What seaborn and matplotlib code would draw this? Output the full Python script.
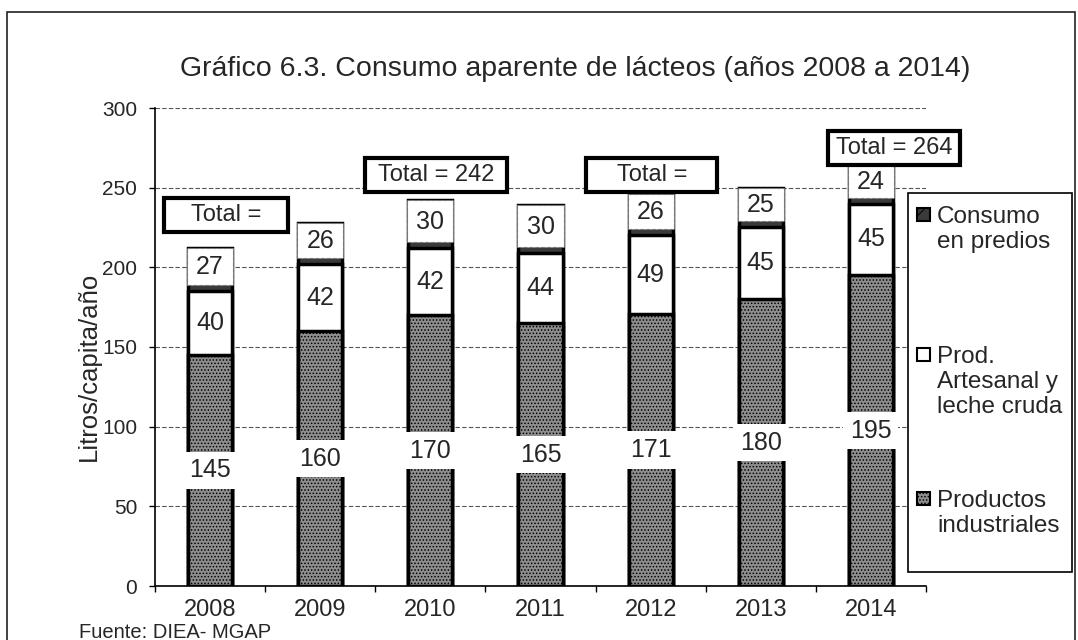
import numpy as np
import pandas as pd
import seaborn as sns
import matplotlib.pyplot as plt
from matplotlib.patches import Rectangle

years = ["2008", "2009", "2010", "2011", "2012", "2013", "2014"]
industriales = [145, 160, 170, 165, 171, 180, 195]
artesanal = [40, 42, 42, 44, 49, 45, 45]
predios = [27, 26, 30, 30, 26, 25, 24]

# the "Total" boxes as they appear in the source (two of them are cut off)
total_idx = [0, 2, 4, 6]
total_txt = ["Total =", "Total = 242", "Total =", "Total = 264"]
# box centre x offset, centre y, width (data units)
total_dx = [0.145, 0.05, 0.01, 0.21]
total_y = [233, 258, 258, 275]
total_w = [1.12, 1.29, 1.19, 1.2]

W, H = 1078, 640

def fx(x):
    return x / W

def fy(y):
    return 1 - y / H

sns.set_style("white")
plt.rcParams["font.family"] = ["Liberation Sans", "DejaVu Sans"]
plt.rcParams["hatch.linewidth"] = 0.7

df = pd.DataFrame({"year": years, "ind": industriales, "art": artesanal, "pre": predios})
df["top2"] = df["ind"] + df["art"]
df["top3"] = df["top2"] + df["pre"]

fig = plt.figure(figsize=(10.78, 6.4), dpi=100)
ax = fig.add_axes([fx(155), fy(586), fx(926) - fx(155), fy(108) - fy(586)])

c_pre = "#3a3a3a"
c_ind = "#8e8e8e"
bar_kw = dict(width=0.4, edgecolor="black", linewidth=2.5, saturation=1, ax=ax)
sns.barplot(data=df, x="year", y="top3", color=c_pre, **bar_kw)
sns.barplot(data=df, x="year", y="top2", color="white", **bar_kw)
sns.barplot(data=df, x="year", y="ind", color=c_ind, hatch=".....", **bar_kw)

ax.set_xlim(-0.5, 6.5)
ax.set_ylim(0, 300)
ax.set_yticks(np.arange(0, 301, 50))
ax.set_xlabel("")
ax.set_ylabel("")
ax.yaxis.grid(True, linestyle=(0, (4, 2)), color="#555555", linewidth=0.8)
ax.set_axisbelow(True)
for s in ["top", "right"]:
    ax.spines[s].set_visible(False)
ax.spines["left"].set_color("black")
ax.spines["bottom"].set_color("black")
ax.spines["left"].set_linewidth(1.2)
ax.spines["bottom"].set_linewidth(1.2)

ax.tick_params(axis="y", length=4.3, width=1, color="black", pad=8.6, labelsize=15, left=True)
ax.set_xticks(np.arange(-0.5, 7, 1), minor=True)
ax.tick_params(axis="x", which="major", length=0, pad=9.5, labelsize=17)
ax.tick_params(axis="x", which="minor", length=4.3, width=1, color="black", bottom=True)

for i in range(len(years)):
    ax.text(i, industriales[i] / 2, str(industriales[i]), ha="center", va="center",
            fontsize=18, zorder=6,
            bbox=dict(boxstyle="square,pad=0.27", fc="white", ec="none"))
    ax.text(i, industriales[i] + artesanal[i] / 2, str(artesanal[i]), ha="center",
            va="center", fontsize=18, zorder=6)
    base = industriales[i] + artesanal[i]
    ax.add_patch(Rectangle((i - 0.21, base + 3.8), 0.42, predios[i] - 3.8,
                           fc="white", ec="#777777", ls="--", lw=0.8, zorder=5))
    ax.text(i, base + predios[i] / 2 + 1.5, str(predios[i]), ha="center", va="center",
            fontsize=18, zorder=6)

for k, i in enumerate(total_idx):
    bx = i + total_dx[k]
    ax.add_patch(Rectangle((bx - total_w[k] / 2, total_y[k] - 10.7), total_w[k], 21.4,
                           fc="white", ec="black", lw=3, zorder=7, clip_on=False))
    ax.text(bx, total_y[k], total_txt[k], ha="center", va="center", fontsize=17, zorder=8)

fig.text(fx(575), fy(69), "Gráfico 6.3. Consumo aparente de lácteos (años 2008 a 2014)",
         ha="center", va="center", fontsize=20.5)
fig.text(fx(89), fy(366), "Litros/capita/año", rotation=90, ha="center", va="center",
         fontsize=18.5)
fig.text(fx(79), fy(638), "Fuente: DIEA- MGAP", ha="left", va="baseline", fontsize=14.5)

# outer frame
fig.add_artist(Rectangle((fx(7), -0.05), fx(1075) - fx(7), fy(12) + 0.05,
                         transform=fig.transFigure, fill=False, ec="#222222", lw=1.2))

# legend box
fig.add_artist(Rectangle((fx(908), fy(572)), fx(1072) - fx(908), fy(193) - fy(572),
                         transform=fig.transFigure, fc="white", ec="black", lw=1.2, zorder=9))
leg_entries = [
    (["Consumo", "en predios"], [223, 248], dict(fc=c_pre, ec="black", hatch="//")),
    (["Prod.", "Artesanal y", "leche cruda"], [363, 388, 413], dict(fc="white", ec="black")),
    (["Productos", "industriales"], [507, 532], dict(fc=c_ind, ec="black", hatch=".....")),
]
for lines, bases, style in leg_entries:
    top = bases[0] - 15
    fig.add_artist(Rectangle((fx(917), fy(top + 13)), fx(930) - fx(917), fy(top) - fy(top + 13),
                             transform=fig.transFigure, lw=1.5, zorder=10, **style))
    for txt, b in zip(lines, bases):
        fig.text(fx(937), fy(b), txt, ha="left", va="baseline", fontsize=17.5, zorder=10)

fig.savefig("out.png", dpi=100)
